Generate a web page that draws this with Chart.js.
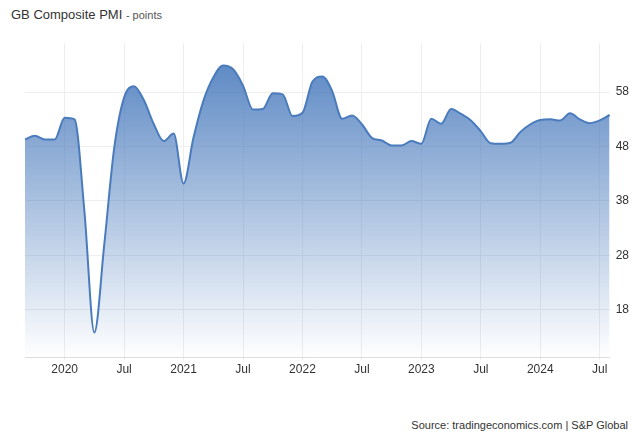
<!DOCTYPE html>
<html><head><script src="https://cdn.jsdelivr.net/npm/chart.js@4"></script>
<style>body{margin:0;background:#fff;font-family:Arial,"Liberation Sans",sans-serif}
#t{position:absolute;left:11px;top:7px;font-size:13px;color:#333}
#t small{font-size:11px;color:#555}
#s{position:absolute;right:12px;top:419px;font-size:11px;color:#333}
#w{position:absolute;left:0;top:30px;width:640px;height:349px}</style></head>
<body><div id="t">GB Composite PMI <small>- points</small></div>
<div id="w"><canvas id="c"></canvas></div>
<div id="s">Source: tradingeconomics.com | S&amp;P Global</div>
<script>
const months=["Sep 2019","Oct 2019","Nov 2019","Dec 2019",
"Jan 2020","Feb 2020","Mar 2020","Apr 2020","May 2020","Jun 2020","Jul 2020","Aug 2020","Sep 2020","Oct 2020","Nov 2020","Dec 2020",
"Jan 2021","Feb 2021","Mar 2021","Apr 2021","May 2021","Jun 2021","Jul 2021","Aug 2021","Sep 2021","Oct 2021","Nov 2021","Dec 2021",
"Jan 2022","Feb 2022","Mar 2022","Apr 2022","May 2022","Jun 2022","Jul 2022","Aug 2022","Sep 2022","Oct 2022","Nov 2022","Dec 2022",
"Jan 2023","Feb 2023","Mar 2023","Apr 2023","May 2023","Jun 2023","Jul 2023","Aug 2023","Sep 2023","Oct 2023","Nov 2023","Dec 2023",
"Jan 2024","Feb 2024","Mar 2024","Apr 2024","May 2024","Jun 2024","Jul 2024","Aug 2024"];
const pmi=[49.3,50.0,49.3,49.3,
53.3,53.0,36.0,13.8,30.0,47.7,57.0,59.1,56.5,52.1,49.0,50.4,
41.2,49.6,56.4,60.7,62.9,62.2,59.2,54.8,54.9,57.8,57.6,53.6,
54.2,59.9,60.9,58.2,53.1,53.7,52.1,49.6,49.1,48.2,48.2,49.0,
48.5,53.1,52.2,54.9,54.0,52.8,50.8,48.6,48.5,48.7,50.7,52.1,
52.9,53.0,52.8,54.1,53.0,52.3,52.8,53.8];
const yTicks=[18,28,38,48,58];
const ctx=document.getElementById('c');
new Chart(ctx,{type:'line',data:{labels:months,datasets:[{data:pmi,borderColor:'#4a7bbd',borderWidth:2,pointRadius:0,tension:0.4,cubicInterpolationMode:'monotone',fill:'start',
backgroundColor:(c)=>{const a=c.chart.chartArea;if(!a)return 'rgba(74,123,189,0.5)';const g=c.chart.ctx.createLinearGradient(0,a.top,0,a.bottom);g.addColorStop(0,'rgba(74,123,189,0.95)');g.addColorStop(1,'rgba(74,123,189,0.0)');return g;}}]},
options:{animation:false,responsive:true,maintainAspectRatio:false,layout:{padding:{left:25,right:5,top:6,bottom:0}},
plugins:{legend:{display:false},tooltip:{enabled:false}},
scales:{x:{offset:false,border:{color:'#ddd'},grid:{color:'#eee',drawTicks:true,tickLength:3},ticks:{autoSkip:false,maxRotation:0,color:'#333',font:{size:12},padding:2,
callback:(v,i)=>{const m=months[i];if(m.startsWith('Jan'))return m.slice(4);if(m.startsWith('Jul'))return 'Jul';return null;}}},
y:{position:'right',min:9.2,max:67,afterBuildTicks:(ax)=>{ax.ticks=yTicks.map(v=>({value:v}));},border:{display:false},grid:{color:'#eee',drawTicks:false},ticks:{color:'#333',font:{size:12},padding:6}}}}});
</script></body></html>
